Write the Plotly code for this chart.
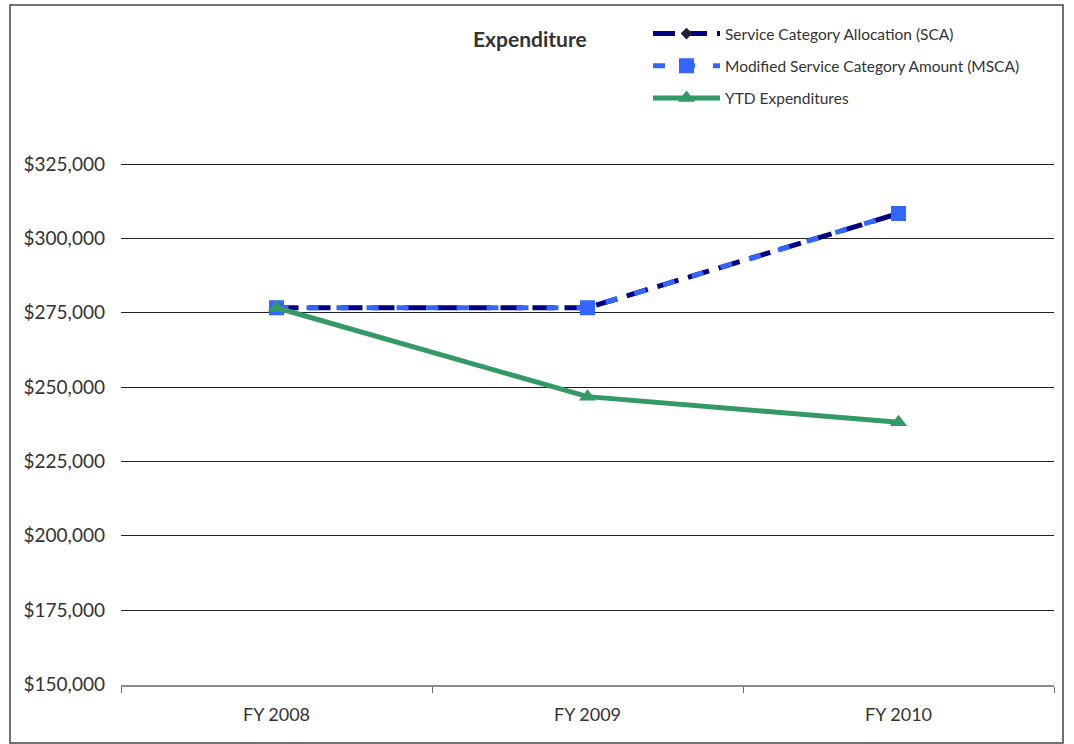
import plotly.graph_objects as go

categories = ["FY 2008", "FY 2009", "FY 2010"]
sca = [276700, 276700, 308400]
msca = [276700, 276700, 308400]
ytd = [276700, 246800, 238200]
y_ticks = [150000, 175000, 200000, 225000, 250000, 275000, 300000, 325000]
y_labels = ["$" + f"{v:,}" for v in y_ticks]

FONT = "Lato, 'Open Sans', sans-serif"
L, R, T, B = 121, 20, 160, 59
PW, PH = 1074 - L - R, 744 - T - B


def px_x(x):
    return (x - L) / PW


def px_y(y):
    return (744 - B - y) / PH


fig = go.Figure()
fig.add_trace(go.Scatter(
    x=categories, y=sca, name="Service Category Allocation (SCA)",
    mode="lines+markers", legendgroup="a",
    line=dict(color="#000080", width=5, dash="22px,10px"),
    marker=dict(symbol="diamond", size=9, color="#1f1f3a"),
))
fig.add_trace(go.Scatter(
    x=categories, y=msca, name="Modified Service Category Amount (MSCA)",
    mode="lines+markers", legendgroup="b",
    line=dict(color="#3366FF", width=5, dash="12px,18px"),
    marker=dict(symbol="square", size=15, color="#3366FF"),
))
fig.add_trace(go.Scatter(
    x=categories, y=ytd, name="YTD Expenditures",
    mode="lines+markers", legendgroup="c",
    line=dict(color="#339966", width=5),
    marker=dict(symbol="triangle-up", size=15, color="#339966"),
))

fig.update_layout(
    width=1074, height=744,
    paper_bgcolor="white", plot_bgcolor="white",
    margin=dict(l=L, r=R, t=T, b=B),
    font=dict(family=FONT, size=15, color="#333333"),
    showlegend=True,
    legend=dict(
        x=px_x(648), y=px_y(17), xanchor="left", yanchor="top",
        font=dict(size=15.5, color="#333333"),
        itemwidth=67, tracegroupgap=9,
        bgcolor="rgba(0,0,0,0)",
    ),
    annotations=[dict(
        text="<b>Expenditure</b>", x=px_x(530), y=px_y(38),
        xref="paper", yref="paper", showarrow=False,
        xanchor="center", yanchor="middle",
        font=dict(size=21, color="#333333"),
    )],
    shapes=[dict(type="rect", xref="paper", yref="paper",
                 x0=px_x(10), x1=px_x(1063), y0=px_y(743), y1=px_y(5),
                 line=dict(color="#444444", width=1.5))],
)

fig.update_xaxes(
    type="category", range=[-0.5, 2.5],
    showgrid=False, showline=True, linecolor="#8a8a8a", linewidth=2,
    ticks="outside", tickson="boundaries", ticklen=6, tickcolor="#666666",
    tickfont=dict(size=18, color="#333333"), ticklabelstandoff=12,
)
fig.update_yaxes(
    range=[149800, 326400], tickvals=y_ticks, ticktext=y_labels,
    showgrid=True, gridcolor="#222222", gridwidth=1,
    showline=False, zeroline=False, ticks="",
    tickfont=dict(size=19, color="#333333"), ticklabelstandoff=15,
)

fig.write_html("out.html", config={"displayModeBar": False},
               post_script="document.body.style.margin='0';document.body.style.overflow='hidden';")
